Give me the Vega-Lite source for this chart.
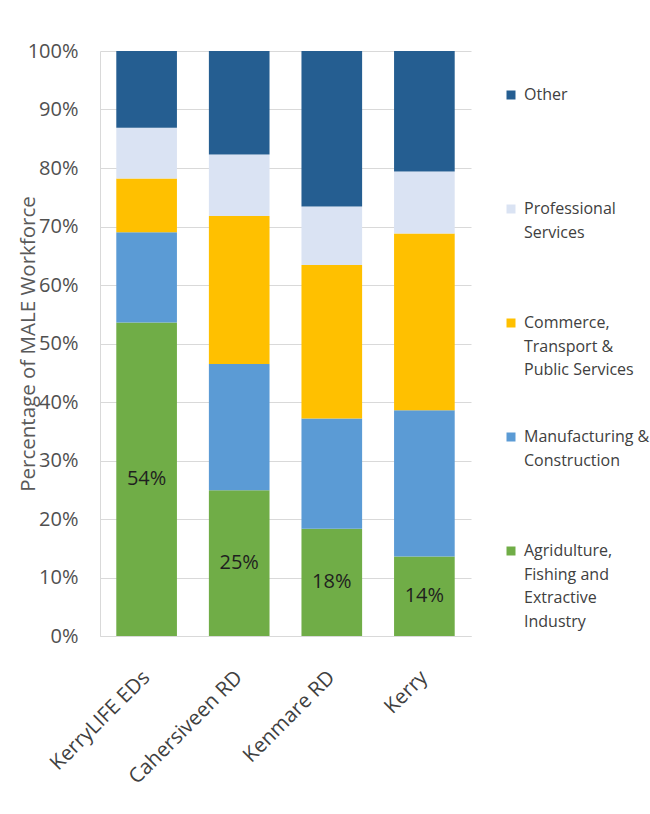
{
  "$schema": "https://vega.github.io/schema/vega-lite/v6.json",
  "width": 371,
  "height": 585,
  "padding": {"left": 18, "top": 41, "right": 0, "bottom": 0},
  "background": "white",
  "data": {
    "values": [
      {"region": "KerryLIFE EDs", "sector": "Agridulture, Fishing and Extractive Industry", "share": 0.536},
      {"region": "KerryLIFE EDs", "sector": "Manufacturing & Construction", "share": 0.154},
      {"region": "KerryLIFE EDs", "sector": "Commerce, Transport & Public Services", "share": 0.092},
      {"region": "KerryLIFE EDs", "sector": "Professional Services", "share": 0.087},
      {"region": "KerryLIFE EDs", "sector": "Other", "share": 0.131},
      {"region": "Cahersiveen RD", "sector": "Agridulture, Fishing and Extractive Industry", "share": 0.249},
      {"region": "Cahersiveen RD", "sector": "Manufacturing & Construction", "share": 0.216},
      {"region": "Cahersiveen RD", "sector": "Commerce, Transport & Public Services", "share": 0.253},
      {"region": "Cahersiveen RD", "sector": "Professional Services", "share": 0.105},
      {"region": "Cahersiveen RD", "sector": "Other", "share": 0.177},
      {"region": "Kenmare RD", "sector": "Agridulture, Fishing and Extractive Industry", "share": 0.1835},
      {"region": "Kenmare RD", "sector": "Manufacturing & Construction", "share": 0.1885},
      {"region": "Kenmare RD", "sector": "Commerce, Transport & Public Services", "share": 0.262},
      {"region": "Kenmare RD", "sector": "Professional Services", "share": 0.100},
      {"region": "Kenmare RD", "sector": "Other", "share": 0.266},
      {"region": "Kerry", "sector": "Agridulture, Fishing and Extractive Industry", "share": 0.136},
      {"region": "Kerry", "sector": "Manufacturing & Construction", "share": 0.250},
      {"region": "Kerry", "sector": "Commerce, Transport & Public Services", "share": 0.302},
      {"region": "Kerry", "sector": "Professional Services", "share": 0.106},
      {"region": "Kerry", "sector": "Other", "share": 0.206}
    ]
  },
  "layer": [
    {
      "transform": [
        {"calculate": "indexof(['Agridulture, Fishing and Extractive Industry', 'Manufacturing & Construction', 'Commerce, Transport & Public Services', 'Professional Services', 'Other'], datum.sector)", "as": "stackOrder"}
      ],
      "mark": {"type": "bar"},
      "encoding": {
        "x": {
          "field": "region", "type": "nominal",
          "sort": ["KerryLIFE EDs", "Cahersiveen RD", "Kenmare RD", "Kerry"],
          "scale": {"paddingInner": 0.345, "paddingOuter": 0.176},
          "title": null,
          "axis": {
            "labelAngle": -45, "labelAlign": "right", "labelBaseline": "middle",
            "labelFont": "Open Sans", "labelFontSize": 20.5, "labelColor": "#404040",
            "labelPadding": 38, "labelLimit": 300, "ticks": false,
            "domain": true, "domainColor": "#d9d9d9", "grid": false
          }
        },
        "y": {
          "field": "share", "type": "quantitative", "stack": "normalize",
          "scale": {"domain": [0, 1]},
          "title": "Percentage of MALE  Workforce",
          "axis": {
            "values": [0, 0.1, 0.2, 0.3, 0.4, 0.5, 0.6, 0.7, 0.8, 0.9, 1],
            "format": ".0%",
            "labelFont": "Open Sans", "labelFontSize": 20, "labelColor": "#505050",
            "labelPadding": 22, "ticks": false,
            "domain": true, "domainColor": "#d9d9d9",
            "grid": true, "gridColor": "#d9d9d9",
            "titleFont": "Open Sans", "titleFontSize": 20.5, "titleFontWeight": "normal",
            "titleColor": "#595959", "titlePadding": -11
          }
        },
        "color": {
          "field": "sector", "type": "nominal",
          "scale": {
            "domain": ["Other", "Professional Services", "Commerce, Transport & Public Services", "Manufacturing & Construction", "Agridulture, Fishing and Extractive Industry"],
            "range": ["#255E91", "#DAE3F3", "#FFC000", "#5B9BD5", "#70AD47"]
          },
          "legend": {
            "orient": "none", "legendX": 403, "legendY": 36, "title": null, "padding": 0,
            "symbolType": "square", "symbolSize": 81, "symbolStrokeWidth": 0,
            "labelFont": "Open Sans", "labelFontSize": 16, "labelColor": "#404040",
            "labelOffset": 5, "rowPadding": 27, "labelLimit": 200,
            "labelExpr": "datum.label == 'Other' ? ['Other', ' ', ' ', ' '] : datum.label == 'Professional Services' ? ['Professional', 'Services', ' ', ' '] : datum.label == 'Manufacturing & Construction' ? ['Manufacturing &', 'Construction', ' ', ' '] : datum.label == 'Commerce, Transport & Public Services' ? ['Commerce,', 'Transport &', 'Public Services', ' '] : ['Agridulture,', 'Fishing and', 'Extractive', 'Industry']",
            "encode": {"labels": {"update": {"lineHeight": {"value": 23.5}}}}
          }
        },
        "order": {"field": "stackOrder", "type": "quantitative"}
      }
    },
    {
      "transform": [
        {"filter": "datum.sector == 'Agridulture, Fishing and Extractive Industry'"}
      ],
      "mark": {"type": "text", "font": "Open Sans", "fontSize": 20, "color": "#1f1f1f"},
      "encoding": {
        "x": {"field": "region", "type": "nominal", "sort": ["KerryLIFE EDs", "Cahersiveen RD", "Kenmare RD", "Kerry"]},
        "y": {"field": "share", "type": "quantitative", "scale": {"domain": [0, 2]}, "axis": null},
        "text": {"field": "share", "type": "quantitative", "format": ".0%"}
      }
    }
  ],
  "resolve": {"scale": {"y": "independent"}},
  "config": {
    "view": {"stroke": null},
    "font": "Open Sans"
  }
}
